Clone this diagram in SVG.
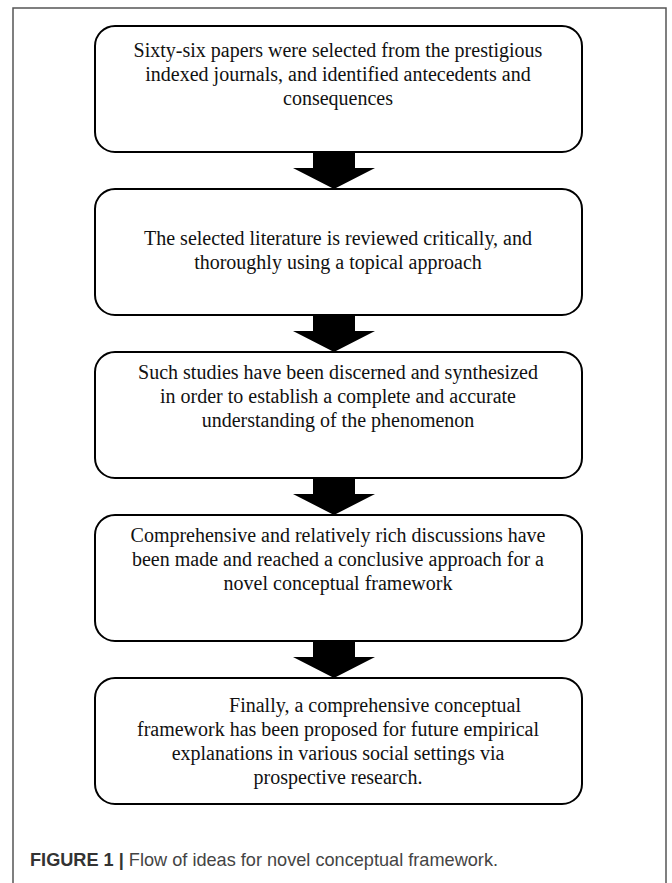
<svg xmlns="http://www.w3.org/2000/svg" width="672" height="883" viewBox="0 0 672 883">
<style>
.box{fill:#fff;stroke:#000;stroke-width:2}
.t{font-family:"Liberation Serif","Times New Roman",serif;font-size:20px;fill:#111;text-anchor:middle}
.arr{fill:#000}
.cap{font-family:"Liberation Sans",Arial,sans-serif;font-size:19px;fill:#444}
</style>
<rect width="672" height="883" fill="#fff"/>
<path d="M13,883 V8 H666 V883" fill="none" stroke="#555" stroke-width="1.5"/>
<g id="connectors">
<polygon class="arr" points="313,152 355,152 355,168 375,168 334,189 293,168 313,168"/>
<polygon class="arr" points="313,315 355,315 355,331 375,331 334,352 293,331 313,331"/>
<polygon class="arr" points="313,478 355,478 355,494 375,494 334,515 293,494 313,494"/>
<polygon class="arr" points="313,641 355,641 355,657 375,657 334,678 293,657 313,657"/>
</g>
<g id="node1">
<rect class="box" x="95" y="26" width="487" height="126" rx="20"/>
<text class="t" x="338" y="57">Sixty-six papers were selected from the prestigious</text>
<text class="t" x="338" y="81">indexed journals, and identified antecedents and</text>
<text class="t" x="338" y="105">consequences</text>
</g>
<g id="node2">
<rect class="box" x="95" y="189" width="487" height="126" rx="20"/>
<text class="t" x="338" y="245">The selected literature is reviewed critically, and</text>
<text class="t" x="338" y="269">thoroughly using a topical approach</text>
</g>
<g id="node3">
<rect class="box" x="95" y="352" width="487" height="126" rx="20"/>
<text class="t" x="338" y="379">Such studies have been discerned and synthesized</text>
<text class="t" x="338" y="403">in order to establish a complete and accurate</text>
<text class="t" x="338" y="427">understanding of the phenomenon</text>
</g>
<g id="node4">
<rect class="box" x="95" y="515" width="487" height="126" rx="20"/>
<text class="t" x="338" y="542">Comprehensive and relatively rich discussions have</text>
<text class="t" x="338" y="566">been made and reached a conclusive approach for a</text>
<text class="t" x="338" y="590">novel conceptual framework</text>
</g>
<g id="node5">
<rect class="box" x="95" y="678" width="487" height="126" rx="20"/>
<text class="t" x="375" y="712">Finally, a comprehensive conceptual</text>
<text class="t" x="338" y="736">framework has been proposed for future empirical</text>
<text class="t" x="338" y="760">explanations in various social settings via</text>
<text class="t" x="338" y="784">prospective research.</text>
</g>
<text class="cap" x="30" y="866" textLength="468" lengthAdjust="spacingAndGlyphs"><tspan font-weight="bold" fill="#333">FIGURE 1 |</tspan> Flow of ideas for novel conceptual framework.</text>
</svg>
